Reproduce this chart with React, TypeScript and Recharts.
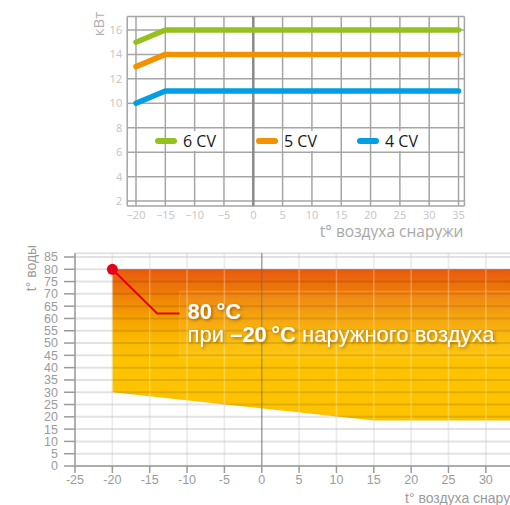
import React from 'react';
import {
  LineChart, Line, XAxis, YAxis, CartesianGrid, ReferenceLine, Legend,
  ComposedChart, Area, ReferenceDot, ReferenceArea,
} from 'recharts';

// ---------- Top chart data (power, kW) ----------
const outdoorTemps = [-20, -15, 35];
const power6CV = [15, 16, 16];
const power5CV = [13, 14, 14];
const power4CV = [10, 11, 11];
const seriesNames = ['6 CV', '5 CV', '4 CV'];
const seriesKeys = ['s6', 's5', 's4'];
const seriesColors = ['#95c11f', '#f39200', '#009fe3'];
const topXTicks = [-20, -15, -10, -5, 0, 5, 10, 15, 20, 25, 30, 35];
const topYTicks = [2, 4, 6, 8, 10, 12, 14, 16];

// ---------- Bottom chart data (water temperature envelope) ----------
const envelopeTemps = [-20, 15, 25, 35];
const waterMin = [30, 18.5, 18.5, 18.5];
const waterMax = [80, 80, 80, 80];
const bottomXTicks = [-25, -20, -15, -10, -5, 0, 5, 10, 15, 20, 25, 30, 35];
const bottomYTicks = [0, 5, 10, 15, 20, 25, 30, 35, 40, 45, 50, 55, 60, 65, 70, 75, 80, 85];
const leaderTemps = [-20, -14, -11];
const leaderValues = [80, 62, 62];

const topData = outdoorTemps.map((x, i) => ({ x, s6: power6CV[i], s5: power5CV[i], s4: power4CV[i] }));
const envelopeData = envelopeTemps.map((x, i) => ({ x, range: [waterMin[i], waterMax[i]] }));
const leaderData = leaderTemps.map((x, i) => ({ x, y: leaderValues[i] }));

const OPEN = '"Open Sans", "Noto Sans", sans-serif';
const ARIAL = '"Liberation Sans", Arial, sans-serif';

const minusFmt = (v: number) => (v < 0 ? '\u2212' + Math.abs(v) : String(v));

const renderLegend = () => (
  <div style={{ position: 'relative', height: 20, width: 510 }}>
    {seriesNames.map((name, i) => (
      <div
        key={name}
        style={{ position: 'absolute', left: 155 + i * 101, top: 0, height: 20, display: 'flex', alignItems: 'center' }}
      >
        <span style={{ display: 'inline-block', width: 22, height: 5.5, borderRadius: 3, background: seriesColors[i] }} />
        <span
          style={{
            marginLeft: 5, padding: '0 1px', background: '#fff', fontFamily: OPEN, fontSize: 16,
            color: '#1a1a1a', lineHeight: '20px', whiteSpace: 'nowrap',
          }}
        >
          {name}
        </span>
      </div>
    ))}
  </div>
);

const TopChart = () => (
  <LineChart width={510} height={240} data={topData} margin={{ top: 16.5, right: 45.6, left: 0, bottom: 0 }}>
    <CartesianGrid stroke="#a5a5a5" strokeWidth={1.5} />
    <XAxis
      type="number" dataKey="x" domain={[-21.5, 36]} ticks={topXTicks} interval={0}
      tickFormatter={minusFmt} axisLine={false} tickLine={false} tickSize={0} tickMargin={5.5}
      tick={{ fill: '#c4c4c4', fontSize: 11, fontFamily: OPEN }} height={34} allowDataOverflow
      label={{
        content: (p: any) => {
          const vb = p.viewBox || { x: 127.2, y: 206, width: 337.2 };
          return (
            <text x={vb.x + vb.width - 1} y={vb.y + 30.5} textAnchor="end" fill="#a8a8a8"
              fontFamily={OPEN} fontSize={15.5}>t° воздуха снаружи</text>
          );
        },
      }}
    />
    <YAxis
      type="number" domain={[1.6, 17.1]} ticks={topYTicks} interval={0} width={127.2}
      axisLine={false} tickLine={false} tickSize={0} tickMargin={5}
      tick={{ fill: '#c4c4c4', fontSize: 11, fontFamily: OPEN }} allowDataOverflow
      label={{
        content: (p: any) => {
          const vb = p.viewBox || { x: 0, y: 16.5, width: 127.2 };
          const cx = vb.x + vb.width - 29;
          const cy = vb.y + 7.5;
          return (
            <text x={cx} y={cy} transform={`rotate(-90, ${cx}, ${cy})`} textAnchor="middle"
              dominantBaseline="central" fill="#b0b0b0" fontFamily={OPEN} fontSize={15}>кВт</text>
          );
        },
      }}
    />
    <ReferenceLine x={0} stroke="#8a8a8a" strokeWidth={2.5} />
    {seriesKeys.map((k, i) => (
      <Line
        key={k} type="linear" dataKey={k} name={seriesNames[i]} stroke={seriesColors[i]}
        strokeWidth={5.5} strokeLinecap="round" strokeLinejoin="round" dot={false}
        activeDot={false} isAnimationActive={false}
      />
    ))}
    <Legend
      layout="horizontal" verticalAlign="middle" align="center" content={renderLegend}
      wrapperStyle={{ position: 'absolute', top: 131, left: 0, width: 510, height: 20 }}
    />
  </LineChart>
);

const BottomChart = () => (
  <ComposedChart width={540} height={265} data={envelopeData} margin={{ top: 13.3, right: 16.8, left: 0, bottom: 0 }}>
    <CartesianGrid horizontal={false} stroke="#e3e3e3" strokeWidth={1.5} />
    <XAxis
      type="number" dataKey="x" domain={[-25, 35]} ticks={bottomXTicks} interval={0}
      axisLine={{ stroke: '#9b9b9b', strokeWidth: 1.5 }} tickLine={{ stroke: '#9b9b9b', strokeWidth: 1.5 }}
      tickSize={7} tickMargin={2.5} height={39}
      tick={{ fill: '#9b9b9b', fontSize: 12.5, fontFamily: ARIAL }}
      label={{
        content: (p: any) => {
          const vb = p.viewBox || { x: 75, y: 226, width: 448 };
          return (
            <text x={vb.x + 330} y={vb.y + 36.7} textAnchor="start" fill="#9b9b9b"
              fontFamily={ARIAL} fontSize={14}>t° воздуха снаружи</text>
          );
        },
      }}
    />
    <YAxis
      type="number" domain={[0, 86.5]} ticks={bottomYTicks} interval={0} width={75}
      axisLine={{ stroke: '#9b9b9b', strokeWidth: 1.5 }} tickLine={{ stroke: '#9b9b9b', strokeWidth: 1.5 }}
      tickSize={11} tickMargin={6}
      tick={{ fill: '#9b9b9b', fontSize: 12.5, fontFamily: ARIAL }}
      label={{
        content: (p: any) => {
          const vb = p.viewBox || { x: 0, y: 13.3, width: 75 };
          const cx = vb.x + 30.5;
          const cy = vb.y + 14.7;
          return (
            <text x={cx} y={cy} transform={`rotate(-90, ${cx}, ${cy})`} textAnchor="middle"
              dominantBaseline="central" fill="#9b9b9b" fontFamily={ARIAL} fontSize={14}>t° воды</text>
          );
        },
      }}
    />
    <Area
      type="linear" dataKey="range" fill="url(#waterGrad)" fillOpacity={1} stroke="none"
      isAnimationActive={false} activeDot={false}
    />
    <CartesianGrid vertical={false} stroke="rgba(0,0,0,0.115)" strokeWidth={2} zIndex={300} />
    <CartesianGrid horizontal={false} stroke="rgba(255,255,255,0.28)" strokeWidth={1.5} zIndex={300} />
    <ReferenceLine x={0} stroke="rgba(0,0,0,0.3)" strokeWidth={1.5} zIndex={310} />
    <ReferenceArea x1={-11} x2={35} y1={44} y2={71} fill="#fff" fillOpacity={0.06}
      stroke="#fff" strokeOpacity={0.15} zIndex={320} />
    <Line
      data={leaderData} type="linear" dataKey="y" stroke="#e3001b" strokeWidth={2} dot={false}
      activeDot={false} isAnimationActive={false}
    />
    <ReferenceDot x={leaderTemps[0]} y={leaderValues[0]} r={5.5} fill="#e3001b" stroke="none" zIndex={900} />
    <ReferenceDot
      x={leaderTemps[2]} y={leaderValues[2]} r={1} fill="none" stroke="none" zIndex={900}
      shape={(p: any) => (
        <g filter="url(#txtShadow)">
          <text x={p.cx + 8} y={p.cy + 5} fill="#fff" fontFamily={ARIAL} fontSize={22} fontWeight="bold">
            80{'\u2009'}°C
          </text>
          <text x={p.cx + 8} y={p.cy + 28} fill="#fff" fontFamily={ARIAL} fontSize={22}>
            <tspan>при </tspan>
            <tspan fontWeight="bold">–20{'\u2009'}°C</tspan>
            <tspan> наружного воздуха</tspan>
          </text>
        </g>
      )}
    />
  </ComposedChart>
);

export default function App() {
  return (
    <div style={{ position: 'absolute', left: 0, top: 0, width: 510, height: 505, overflow: 'hidden', background: '#fff' }}>
      <svg width={0} height={0} style={{ position: 'absolute' }}>
        <defs>
          <linearGradient id="waterGrad" x1="0" y1="0" x2="0" y2="1">
            <stop offset="0" stopColor="#e85a0e" />
            <stop offset="0.16" stopColor="#ef7d06" />
            <stop offset="0.32" stopColor="#f5a000" />
            <stop offset="0.48" stopColor="#fbbb00" />
            <stop offset="0.61" stopColor="#fdc300" />
            <stop offset="1" stopColor="#fdc300" />
          </linearGradient>
          <filter id="txtShadow" x="-10%" y="-30%" width="120%" height="160%">
            <feDropShadow dx="1.5" dy="1.5" stdDeviation="1.5" floodColor="#6b3a00" floodOpacity="0.55" />
          </filter>
        </defs>
      </svg>
      <div style={{ position: 'absolute', left: 0, top: 0 }}>
        <TopChart />
      </div>
      <div style={{ position: 'absolute', left: 0, top: 240 }}>
        <BottomChart />
      </div>
    </div>
  );
}
